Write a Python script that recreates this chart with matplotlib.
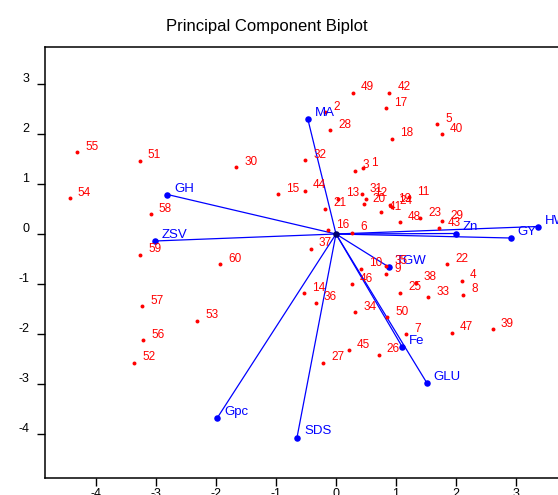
import matplotlib
matplotlib.use("Agg")
import matplotlib.pyplot as plt
from matplotlib.transforms import ScaledTranslation

plt.rcParams['font.family'] = ['Liberation Sans', 'DejaVu Sans']
plt.rcParams['axes.unicode_minus'] = False

# Observation scores (PC1, PC2)
obs_labels = list(range(1, 61))
obs_x = [0.45, -0.18, 0.31, 2.10, 1.69, 0.27, 1.17, 2.12, 0.84, 0.42,
         1.22, 0.50, 0.03, -0.54, -0.96, -0.14, 0.84, 0.93, 0.90, 0.47,
         -0.18, 1.85, 1.40, 0.93, 1.07, 0.71, -0.21, -0.10, 1.77, -1.66,
         0.43, -0.51, 1.54, 0.32, 0.84, -0.34, -0.42, 1.33, 2.61, 1.76,
         0.75, 0.89, 1.72, -0.52, 0.21, 0.26, 1.93, 1.06, 0.28, 0.85,
         -3.27, -3.36, -2.31, -4.44, -4.31, -3.21, -3.23, -3.09, -3.26, -1.93]
obs_y = [1.33, 2.44, 1.27, -0.93, 2.21, 0.03, -1.99, -1.21, -0.79, -0.69,
         0.74, 0.71, 0.71, -1.18, 0.81, 0.09, 2.53, 1.91, 0.59, 0.61,
         0.51, -0.59, 0.33, 0.55, -1.17, -2.41, -2.57, 2.08, 0.26, 1.34,
         0.80, 1.49, -1.26, -1.55, -0.64, -1.37, -0.29, -0.97, -1.90, 2.01,
         0.45, 2.83, 0.13, 0.87, -2.32, -0.99, -1.97, 0.25, 2.83, -1.66,
         1.47, -2.57, -1.73, 0.73, 1.65, -2.12, -1.43, 0.41, -0.41, -0.59]

# Variable loadings
var_names = ['GH', 'ZSV', 'MA', 'Zn', 'GY', 'HW', 'TGW', 'Fe', 'GLU', 'Gpc', 'SDS']
var_x = [-2.81, -3.02, -0.47, 2.00, 2.91, 3.36, 0.88, 1.10, 1.51, -1.98, -0.65]
var_y = [0.79, -0.14, 2.30, 0.01, -0.08, 0.15, -0.66, -2.25, -2.97, -3.68, -4.07]

xticks = [-4, -3, -2, -1, 0, 1, 2, 3]
yticks = [-4, -3, -2, -1, 0, 1, 2, 3]

W, H = 558, 495
fig = plt.figure(figsize=(W / 100, H / 100), dpi=100)
xlim = (-4.85, 4.0)
ylim = (-4.88, 3.734)
left_px, right_px = 45, 45 + (xlim[1] - xlim[0]) * 60
top_px, bot_px = 47.3, 478
ax = fig.add_axes([left_px / W, (H - bot_px) / H, (right_px - left_px) / W, (bot_px - top_px) / H])
ax.set_xlim(*xlim)
ax.set_ylim(*ylim)

# loading vectors
for vx, vy in zip(var_x, var_y):
    ax.plot([0, vx], [0, vy], color='blue', lw=0.9, zorder=2)
ax.scatter(var_x, var_y, s=22, color='blue', zorder=3, linewidths=0)
ax.scatter([0], [0], s=22, color='#000070', zorder=4, linewidths=0)
for name, vx, vy in zip(var_names, var_x, var_y):
    ax.annotate(name, (vx, vy), xytext=(7, 3), textcoords='offset pixels',
                ha='left', va='baseline', color='blue', fontsize=9.5,
                annotation_clip=False, zorder=5)

# observations
ax.scatter(obs_x, obs_y, s=8, color='red', zorder=3, linewidths=0)
for lab, ox, oy in zip(obs_labels, obs_x, obs_y):
    ax.annotate(str(lab), (ox, oy), xytext=(8, 2), textcoords='offset pixels',
                ha='left', va='baseline', color='red', fontsize=8.5,
                annotation_clip=False, zorder=5)

ax.set_xticks(xticks)
ax.set_yticks(yticks)
ax.set_xticklabels([str(t) for t in xticks])
ax.set_yticklabels([str(t) for t in yticks])
ax.tick_params(axis='both', direction='out', length=6, width=1.0, labelsize=9, colors='black')
ax.tick_params(axis='x', pad=1.5)
ax.tick_params(axis='y', pad=5.5)
for lbl in ax.get_yticklabels():
    lbl.set_transform(lbl.get_transform() + ScaledTranslation(0, 0.065, fig.dpi_scale_trans))
for s in ['left', 'top', 'bottom']:
    ax.spines[s].set_linewidth(1.1)
ax.spines['right'].set_visible(False)

fig.text(267 / W, 1 - 27 / H, 'Principal Component Biplot', ha='center', va='center', fontsize=12)

fig.savefig('out.png', dpi=100)
